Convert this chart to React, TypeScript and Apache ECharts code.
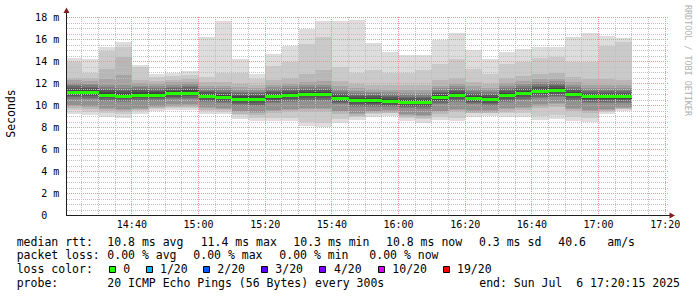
import React, { useEffect, useRef } from 'react';
import * as echarts from 'echarts';

// ---- data ----
const axisStart = '14:20:15';
const axisEnd = '17:20:15';
const stepMinutes = 5;
const stepEnds = [
  '14:25', '14:30', '14:35', '14:40', '14:45', '14:50', '14:55', '15:00', '15:05', '15:10',
  '15:15', '15:20', '15:25', '15:30', '15:35', '15:40', '15:45', '15:50', '15:55', '16:00',
  '16:05', '16:10', '16:15', '16:20', '16:25', '16:30', '16:35', '16:40', '16:45', '16:50',
  '16:55', '17:00', '17:05', '17:10',
];
const medianRtt = [
  11.23, 11.2, 11.0, 10.9, 11.0, 11.0, 11.1, 11.17, 10.86, 10.78,
  10.63, 10.6, 10.83, 10.93, 11.02, 11.02, 10.7, 10.5, 10.47, 10.42,
  10.33, 10.32, 10.74, 10.93, 10.7, 10.6, 10.97, 11.12, 11.32, 11.4,
  11.02, 10.82, 10.82, 10.82,
];
// 20 sorted ping RTTs (ms) per 5-minute step
const pingSamples: number[][] = [
  [9.25, 9.55, 9.73, 9.93, 10.03, 10.63, 10.73, 10.88, 11.03, 11.15, 11.31, 11.45, 11.61, 11.73, 11.88, 12.03, 12.28, 12.53, 14.0, 14.35],
  [9.15, 9.45, 9.7, 9.9, 10.0, 10.6, 10.7, 10.85, 11.0, 11.12, 11.28, 11.42, 11.58, 11.7, 11.85, 12.0, 12.25, 12.5, 13.0, 14.2],
  [9.0, 9.3, 9.5, 9.7, 9.8, 10.4, 10.5, 10.65, 10.8, 10.92, 11.08, 11.22, 11.38, 11.5, 11.65, 11.9, 12.4, 13.3, 15.0, 15.3],
  [8.9, 9.2, 9.4, 9.6, 9.7, 10.3, 10.4, 10.55, 10.7, 10.82, 10.98, 11.12, 11.28, 11.4, 11.6, 11.9, 12.8, 14.4, 15.35, 15.8],
  [9.2, 9.5, 9.55, 9.7, 9.8, 10.4, 10.5, 10.65, 10.8, 10.92, 11.08, 11.22, 11.38, 11.5, 11.65, 11.8, 12.05, 12.35, 13.5, 13.7],
  [9.5, 9.7, 9.8, 9.9, 10.0, 10.45, 10.55, 10.68, 10.82, 10.93, 11.07, 11.2, 11.35, 11.48, 11.6, 11.75, 11.95, 12.2, 12.6, 12.86],
  [9.55, 9.75, 9.85, 10.0, 10.1, 10.55, 10.65, 10.78, 10.92, 11.03, 11.17, 11.3, 11.45, 11.58, 11.72, 11.88, 12.1, 12.35, 12.7, 13.0],
  [9.55, 9.8, 9.9, 10.05, 10.15, 10.6, 10.7, 10.83, 10.98, 11.1, 11.24, 11.38, 11.52, 11.65, 11.8, 11.95, 12.18, 12.45, 12.8, 13.1],
  [9.25, 9.5, 9.6, 9.75, 9.85, 10.3, 10.4, 10.52, 10.67, 10.79, 10.93, 11.06, 11.2, 11.32, 11.45, 11.6, 11.8, 12.1, 12.6, 16.2],
  [9.2, 9.45, 9.55, 9.7, 9.8, 10.2, 10.3, 10.45, 10.6, 10.71, 10.85, 10.98, 11.12, 11.25, 11.38, 11.55, 11.8, 12.15, 13.0, 17.7],
  [8.8, 9.1, 9.25, 9.4, 9.5, 10.0, 10.12, 10.27, 10.43, 10.55, 10.71, 10.85, 11.0, 11.13, 11.27, 11.42, 11.65, 12.0, 13.0, 14.2],
  [8.6, 8.9, 9.1, 9.3, 9.4, 9.95, 10.08, 10.23, 10.4, 10.52, 10.68, 10.82, 10.97, 11.1, 11.25, 11.4, 11.6, 11.9, 12.4, 12.85],
  [8.56, 8.9, 9.3, 9.5, 9.6, 10.2, 10.32, 10.47, 10.63, 10.76, 10.9, 11.05, 11.2, 11.33, 11.48, 11.65, 11.9, 12.3, 13.6, 14.7],
  [8.56, 8.9, 9.4, 9.6, 9.7, 10.3, 10.42, 10.57, 10.73, 10.86, 11.0, 11.15, 11.3, 11.43, 11.58, 11.75, 12.0, 12.5, 14.0, 15.4],
  [8.17, 8.5, 9.4, 9.65, 9.75, 10.4, 10.5, 10.65, 10.82, 10.95, 11.09, 11.24, 11.4, 11.53, 11.68, 11.85, 12.15, 12.9, 15.6, 17.0],
  [8.05, 8.4, 9.4, 9.65, 9.75, 10.4, 10.5, 10.65, 10.82, 10.95, 11.09, 11.24, 11.4, 11.53, 11.68, 11.85, 12.2, 13.2, 16.2, 17.68],
  [8.4, 8.75, 9.2, 9.4, 9.5, 10.1, 10.2, 10.35, 10.5, 10.63, 10.77, 10.9, 11.05, 11.18, 11.32, 11.5, 11.75, 12.2, 13.5, 17.68],
  [8.7, 9.0, 9.05, 9.2, 9.3, 9.9, 10.0, 10.15, 10.3, 10.43, 10.57, 10.7, 10.85, 10.98, 11.12, 11.3, 11.55, 11.95, 13.0, 17.8],
  [9.0, 9.25, 9.3, 9.4, 9.5, 9.9, 10.0, 10.12, 10.27, 10.4, 10.54, 10.68, 10.83, 10.95, 11.1, 11.27, 11.5, 11.9, 13.2, 15.7],
  [9.07, 9.3, 9.35, 9.45, 9.55, 9.85, 9.95, 10.08, 10.22, 10.35, 10.49, 10.63, 10.78, 10.9, 11.05, 11.22, 11.45, 11.85, 13.0, 14.9],
  [8.6, 8.9, 9.0, 9.15, 9.25, 9.75, 9.85, 9.98, 10.13, 10.26, 10.4, 10.54, 10.68, 10.8, 10.95, 11.12, 11.4, 11.85, 13.0, 14.6],
  [8.4, 8.75, 8.9, 9.05, 9.15, 9.7, 9.82, 9.97, 10.12, 10.25, 10.39, 10.53, 10.67, 10.8, 10.95, 11.12, 11.4, 11.9, 13.2, 14.6],
  [8.7, 9.0, 9.2, 9.4, 9.5, 10.1, 10.2, 10.37, 10.53, 10.67, 10.81, 10.95, 11.1, 11.23, 11.38, 11.55, 11.8, 12.3, 13.8, 16.0],
  [8.56, 8.9, 9.4, 9.6, 9.7, 10.3, 10.42, 10.57, 10.73, 10.86, 11.0, 11.15, 11.3, 11.43, 11.58, 11.75, 12.0, 12.5, 14.2, 16.56],
  [9.0, 9.3, 9.35, 9.45, 9.55, 10.1, 10.2, 10.35, 10.5, 10.63, 10.77, 10.9, 11.05, 11.18, 11.32, 11.5, 11.75, 12.15, 13.3, 15.05],
  [9.07, 9.3, 9.35, 9.45, 9.55, 10.0, 10.1, 10.25, 10.4, 10.53, 10.67, 10.8, 10.95, 11.08, 11.22, 11.38, 11.6, 12.0, 12.9, 14.23],
  [9.0, 9.3, 9.45, 9.65, 9.75, 10.35, 10.45, 10.6, 10.77, 10.9, 11.04, 11.18, 11.33, 11.46, 11.6, 11.78, 12.05, 12.5, 13.8, 14.9],
  [8.95, 9.3, 9.6, 9.8, 9.9, 10.5, 10.6, 10.76, 10.92, 11.05, 11.19, 11.33, 11.48, 11.6, 11.75, 11.92, 12.2, 12.7, 14.0, 15.14],
  [8.7, 9.05, 9.8, 10.0, 10.1, 10.7, 10.8, 10.96, 11.12, 11.25, 11.39, 11.53, 11.68, 11.8, 11.95, 12.12, 12.4, 12.9, 14.3, 15.3],
  [8.8, 9.15, 9.9, 10.1, 10.2, 10.8, 10.9, 11.05, 11.2, 11.33, 11.47, 11.6, 11.75, 11.88, 12.02, 12.2, 12.45, 12.95, 14.4, 15.3],
  [8.6, 8.95, 9.5, 9.7, 9.8, 10.4, 10.5, 10.66, 10.82, 10.95, 11.09, 11.23, 11.38, 11.5, 11.65, 11.82, 12.1, 12.6, 14.0, 16.2],
  [8.5, 8.85, 9.3, 9.5, 9.6, 10.2, 10.3, 10.46, 10.62, 10.75, 10.89, 11.03, 11.18, 11.3, 11.45, 11.62, 11.9, 12.4, 14.0, 16.6],
  [9.2, 9.45, 9.5, 9.6, 9.7, 10.2, 10.3, 10.46, 10.62, 10.75, 10.89, 11.03, 11.18, 11.3, 11.45, 11.62, 11.9, 12.4, 15.4, 16.3],
  [9.47, 9.65, 9.7, 9.8, 9.9, 10.25, 10.35, 10.48, 10.63, 10.75, 10.89, 11.03, 11.18, 11.3, 11.45, 11.62, 11.85, 12.3, 15.8, 16.13],
];
const yMaxMs = 18;
const yMajorStep = 2;
const yMinorStep = 0.5;
const xMajorStepMinutes = 20;
const xMinorStepMinutes = 5;

const yAxisTitle = 'Seconds';
const watermark = 'RRDTOOL / TOBI OETIKER';
const rttLabel = 'median rtt:';
const rttStats = ['10.8 ms avg', '11.4 ms max', '10.3 ms min', '10.8 ms now', '0.3 ms sd', '40.6', 'am/s'];
const lossLabel = 'packet loss:';
const lossStats = ['0.00 % avg', '0.00 % max', '0.00 % min', '0.00 % now'];
const lossColorLabel = 'loss color:';
const lossLabels = ['0', '1/20', '2/20', '3/20', '4/20', '10/20', '19/20'];
const lossColors = ['#26ff00', '#00b8ff', '#0059ff', '#5e00ff', '#7e00ff', '#dd00ff', '#ff0000'];
const probeLabel = 'probe:';
const probeText = '20 ICMP Echo Pings (56 Bytes) every 300s';
const endText = 'end: Sun Jul  6 17:20:15 2025';

// ---- helpers ----
const toMin = (s: string) => {
  const [h, m, sec] = s.split(':').map(Number);
  return h * 60 + m + (sec || 0) / 60;
};
const fmtMin = (v: number) => `${Math.floor(v / 60)}:${String(Math.round(v % 60)).padStart(2, '0')}`;

const MONO = '"DejaVu Sans Mono", monospace';

export default function App() {
  const ref = useRef<HTMLDivElement>(null);

  useEffect(() => {
    if (!ref.current) return;
    const chart = echarts.init(ref.current, undefined, { renderer: 'svg' });

    const startMin = toMin(axisStart);
    const endMin = toMin(axisEnd);
    const xMin = Math.floor(startMin / xMajorStepMinutes) * xMajorStepMinutes;
    const xMax = Math.floor(endMin / xMajorStepMinutes) * xMajorStepMinutes;

    const data = stepEnds.map((t, i) => [toMin(t), ...pingSamples[i], medianRtt[i]]);
    const half = pingSamples[0].length / 2;
    const medIdx = 2 * half + 1;

    // grid values (minor + major) for the dotted grid, drawn through the axes
    const xMinorGrid: number[] = [];
    const xMajorGrid: number[] = [];
    const nX = Math.round((xMax - xMin) / xMinorStepMinutes);
    const xPerMajor = Math.round(xMajorStepMinutes / xMinorStepMinutes);
    for (let k = 1; k <= nX; k++) (k % xPerMajor === 0 ? xMajorGrid : xMinorGrid).push(xMin + k * xMinorStepMinutes);
    const yMinorGrid: number[] = [];
    const yMajorGrid: number[] = [];
    const nY = Math.round(yMaxMs / yMinorStep);
    const yPerMajor = Math.round(yMajorStep / yMinorStep);
    for (let k = 1; k <= nY; k++) (k % yPerMajor === 0 ? yMajorGrid : yMinorGrid).push(k * yMinorStep);

    const minorStroke = '#c0c0c0';
    const majorStroke = '#eb9595';

    const vLines = (vals: number[], stroke: string, z: number) => ({
      type: 'custom', z, silent: true,
      data: vals.map((t) => [t, 0]),
      encode: { x: 0, y: 1 },
      renderItem: (params: any, api: any) => {
        const t = api.value(0);
        const top = api.coord([t, yMaxMs]);
        const bot = api.coord([t, 0]);
        const x = Math.floor(top[0]) + 0.5;
        return {
          type: 'line',
          shape: { x1: x, y1: Math.floor(top[1]), x2: x, y2: Math.floor(bot[1]) },
          style: { stroke, lineWidth: 1, lineDash: [1, 1] },
        };
      },
    });
    const hLines = (vals: number[], stroke: string, z: number) => ({
      type: 'custom', z, silent: true,
      data: vals.map((v) => [startMin, v]),
      encode: { x: 0, y: 1 },
      renderItem: (params: any, api: any) => {
        const v = api.value(1);
        const l = api.coord([startMin, v]);
        const r = api.coord([xMax, v]);
        const y = Math.floor(l[1]) + 0.5;
        return {
          type: 'line',
          shape: { x1: Math.floor(l[0]) + 1, y1: y, x2: Math.floor(r[0]) + 3, y2: y },
          style: { stroke, lineWidth: 1, lineDash: [1, 1] },
        };
      },
    });

    // layout
    const gLeft = 65.2, gTop = 17.5, gW = 600, gH = 198;

    chart.setOption({
      animation: false,
      backgroundColor: '#ffffff',
      grid: { left: gLeft, top: gTop, width: gW, height: gH, containLabel: false },
      xAxis: {
        type: 'value', min: xMin, max: xMax, interval: xMajorStepMinutes,
        axisLine: { show: false }, axisTick: { show: false },
        axisLabel: {
          showMinLabel: false, margin: 4, color: '#000', fontFamily: MONO, fontSize: 10,
          formatter: (v: number) => fmtMin(v),
        },
        splitLine: { show: false },
      },
      yAxis: {
        type: 'value', min: 0, max: yMaxMs, interval: yMajorStep,
        axisLine: { show: false }, axisTick: { show: false },
        axisLabel: {
          margin: 6, color: '#000', fontFamily: MONO, fontSize: 10,
          formatter: (v: number) => (v === 0 ? '0\u00a0\u00a0' : `${v} m`),
        },
        splitLine: { show: false },
      },
      series: [
        {
          // smoke bands
          type: 'custom',
          z: 2,
          data,
          encode: { x: 0, y: medIdx },
          renderItem: (params: any, api: any) => {
            const tEnd = api.value(0);
            const tStart = Math.max(tEnd - stepMinutes, startMin);
            const children: any[] = [];
            for (let i = 1; i <= half; i++) {
              const lo = api.value(i);
              const hi = api.value(2 * half + 1 - i);
              const a = api.coord([tStart, hi]);
              const b = api.coord([tEnd, lo]);
              const g = Math.floor((190 / half) * (half - i)) + 50;
              const x0 = Math.round(a[0]), x1 = Math.round(b[0]);
              const y0 = Math.round(a[1]), y1 = Math.round(b[1]);
              children.push({
                type: 'rect',
                shape: { x: x0, y: y0, width: x1 - x0, height: Math.max(1, y1 - y0) },
                style: { fill: `rgb(${g},${g},${g})` },
              });
            }
            return { type: 'group', children };
          },
        },
        vLines(xMinorGrid, minorStroke, 3),
        hLines(yMinorGrid, minorStroke, 3),
        vLines(xMajorGrid, majorStroke, 4),
        hLines(yMajorGrid, majorStroke, 4),
        {
          // median rtt, coloured by loss
          type: 'custom',
          z: 6,
          data,
          encode: { x: 0, y: medIdx },
          renderItem: (params: any, api: any) => {
            const tEnd = api.value(0);
            const tStart = Math.max(tEnd - stepMinutes, startMin);
            const m = api.value(medIdx);
            const ma = api.coord([tStart, m]);
            const mb = api.coord([tEnd, m]);
            const mx0 = Math.round(ma[0]), mx1 = Math.round(mb[0]);
            return {
              type: 'rect',
              shape: { x: mx0, y: Math.round(ma[1]) - 1, width: mx1 - mx0, height: 3 },
              style: { fill: lossColors[0] },
            };
          },
        },
      ],
    });

    const px = (t: number, v: number) => chart.convertToPixel({ gridIndex: 0 }, [t, v]) as number[];
    const [axisXraw, axisYraw] = px(startMin, 0);
    const axisX = Math.floor(axisXraw) + 0.5;
    const axisY = Math.floor(axisYraw) + 0.5;
    const rightX = Math.floor(px(xMax, 0)[0]);

    const text = (x: number, y: number, t: string, extra: any = {}) => ({
      type: 'text', x, y, z: 100,
      style: { text: t, fill: '#000', fontFamily: MONO, fontSize: 11.5, align: 'left', verticalAlign: 'middle', ...extra },
    });

    const rowY = [241.5, 255.3, 269, 282.8];
    const rttX = [107.3, 200.7, 293.3, 386, 479, 558.3, 607.3];
    const lossX = [107.3, 193.3, 279.3, 369.3];
    const boxX = [109, 146, 203, 261, 319, 378, 443];
    const boxTextX = [123.3, 160, 217.3, 275.3, 334, 392.3, 457];

    const elements: any[] = [
      {
        type: 'text', x: 11, y: 113.5, rotation: Math.PI / 2, z: 100,
        style: { text: yAxisTitle, fill: '#000', fontFamily: MONO, fontSize: 11.5, align: 'center', verticalAlign: 'middle' },
      },
      {
        type: 'text', x: 688, y: 60.5, rotation: -Math.PI / 2, z: 100,
        style: { text: watermark, fill: '#b0b0b0', fontFamily: MONO, fontSize: 8.4, align: 'center', verticalAlign: 'middle' },
      },
      text(16.7, rowY[0], rttLabel),
      ...rttStats.map((s, i) => text(rttX[i], rowY[0], s)),
      text(16.7, rowY[1], lossLabel),
      ...lossStats.map((s, i) => text(lossX[i], rowY[1], s)),
      text(16.7, rowY[2], lossColorLabel),
      ...lossLabels.map((s, i) => text(boxTextX[i], rowY[2], s)),
      ...lossColors.map((c, i) => ({
        type: 'rect', z: 100,
        shape: { x: boxX[i] + 0.5, y: 266.5, width: 6, height: 6 },
        style: { fill: c, stroke: '#000', lineWidth: 1 },
      })),
      text(16.7, rowY[3], probeLabel),
      text(107.3, rowY[3], probeText),
      text(680, rowY[3], endText, { align: 'right' }),
      // axis lines + arrows
      { type: 'line', z: 100, shape: { x1: axisX, y1: axisY + 0.5, x2: axisX, y2: 12 }, style: { stroke: '#1f1f1f', lineWidth: 1 } },
      { type: 'line', z: 100, shape: { x1: axisX - 0.5, y1: axisY, x2: rightX + 5, y2: axisY }, style: { stroke: '#1f1f1f', lineWidth: 1 } },
      { type: 'polygon', z: 101, shape: { points: [[axisX, 7.5], [axisX - 3, 13], [axisX + 3, 13]] }, style: { fill: '#801f1f' } },
      { type: 'polygon', z: 101, shape: { points: [[rightX + 10, axisY], [rightX + 4.5, axisY - 3], [rightX + 4.5, axisY + 3]] }, style: { fill: '#801f1f' } },
    ];

    chart.setOption({ graphic: { elements } });

    return () => chart.dispose();
  }, []);

  return (
    <div
      ref={ref}
      style={{ position: 'fixed', left: 0, top: 0, width: 697, height: 297, background: '#fff' }}
    />
  );
}
